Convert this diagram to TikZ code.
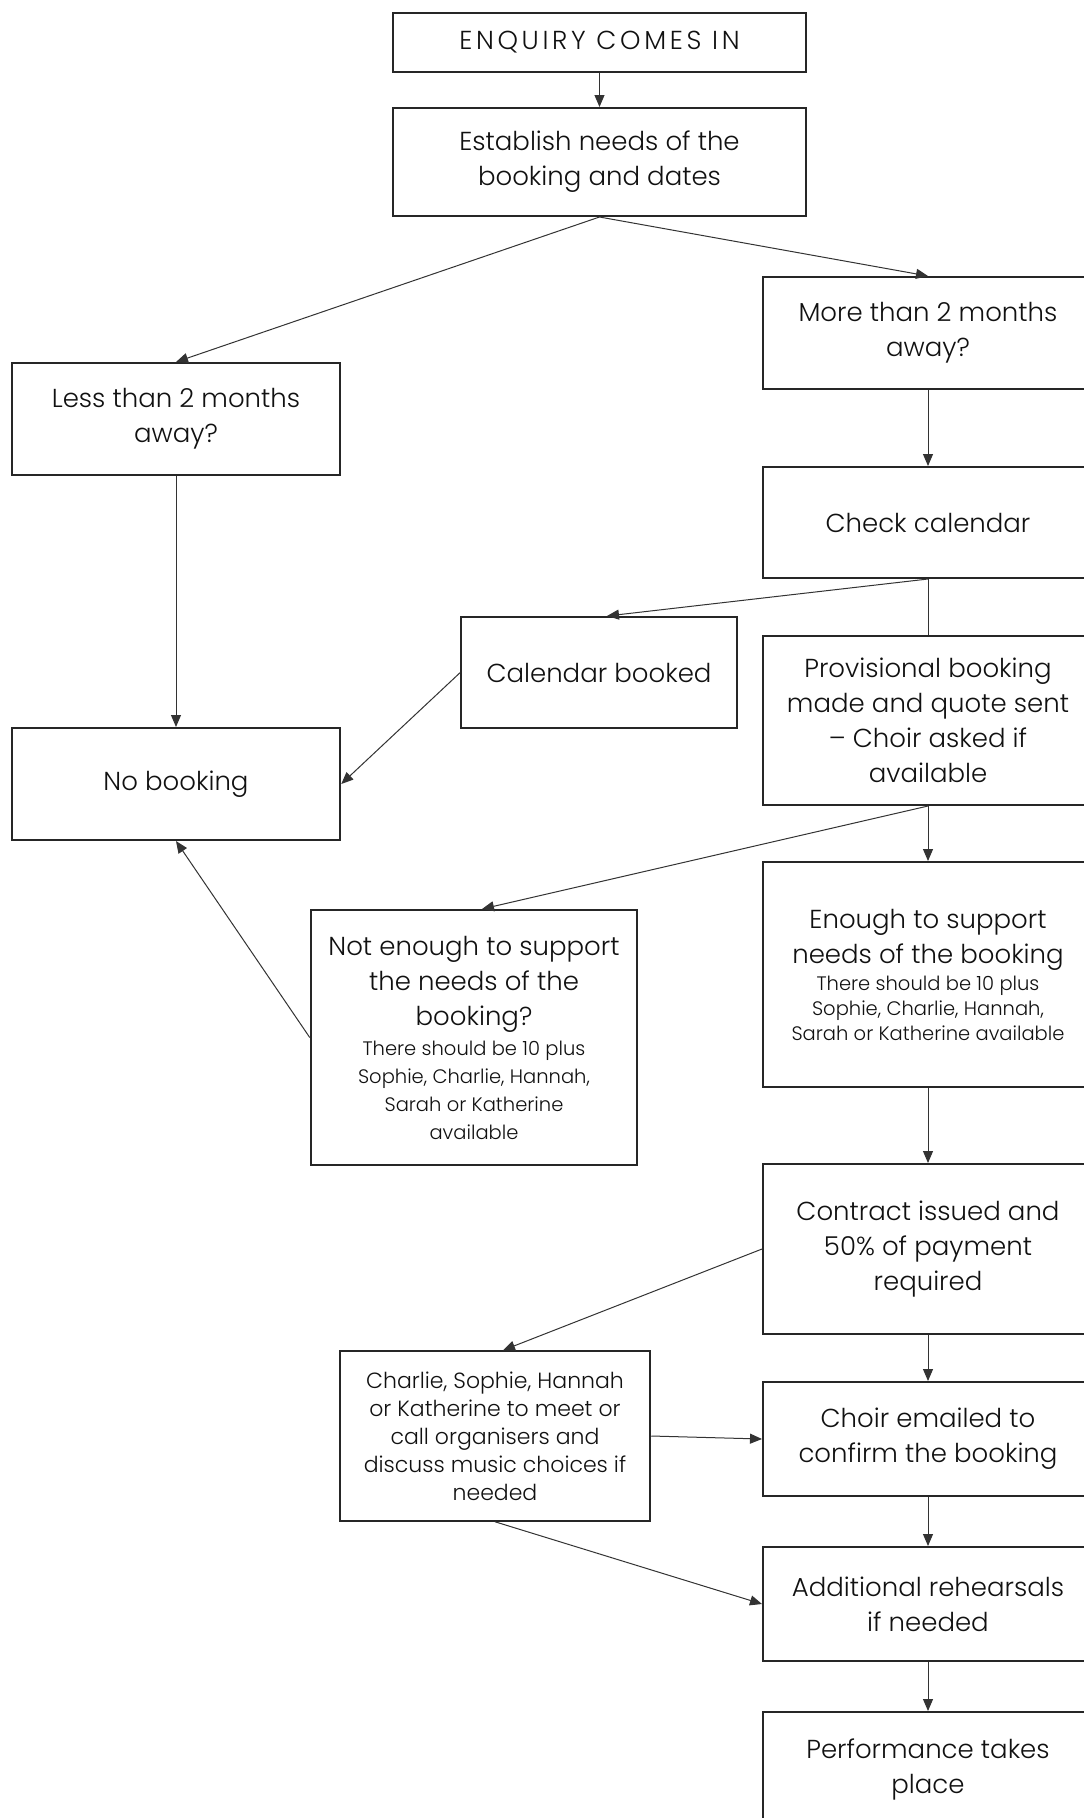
\documentclass[tikz,border=0pt]{standalone}
\usepackage{fontspec}
\IfFontExistsTF{Poppins Light}{\setmainfont{Poppins Light}}{\setmainfont{Poppins}}
\usetikzlibrary{arrows.meta}
\definecolor{boxc}{HTML}{262626}
\definecolor{txtc}{HTML}{111111}
\definecolor{linec}{HTML}{333333}
\tikzset{
  box/.style={draw=boxc, line width=2pt, align=center, inner sep=0pt, text=txtc,
    font=\fontsize{26}{35}\selectfont},
  arr/.style={draw=linec, line width=1pt, -{Triangle[length=12pt,width=10pt]}},
  plain/.style={draw=linec, line width=1pt},
}
\newcommand{\smalltxt}{\fontsize{19.5}{25}\selectfont}
\begin{document}
\begin{tikzpicture}[x=1pt,y=-1pt]
\clip (0,0) rectangle (1084,1818);
\fill[white] (0,0) rectangle (1084,1818);

\node[box, minimum width=413pt, minimum height=59pt] (enq) at (599.5,42.5) {\addfontfeatures{LetterSpace=14}ENQUIRY COMES IN};
\node[box, minimum width=413pt, minimum height=108pt] (est) at (599.5,162) {Establish needs of the\\booking and dates};
\node[box, minimum width=328.5pt, minimum height=112pt] (less) at (176,419) {Less than 2 months\\away?};
\node[box, minimum width=330pt, minimum height=112pt] (more) at (928,333) {More than 2 months\\away?};
\node[box, minimum width=330pt, minimum height=111pt] (check) at (928,522.5) {Check calendar};
\node[box, minimum width=275.5pt, minimum height=111pt] (cal) at (599,672.5) {Calendar booked};
\node[box, minimum width=328.5pt, minimum height=112pt] (nob) at (176,784) {No booking};
\node[box, minimum width=330pt, minimum height=169pt] (prov) at (928,720.5) {Provisional booking\\made and quote sent\\-- Choir asked if\\available};
\node[box, minimum width=326.5pt, minimum height=255pt] (noten) at (474,1037.5) {Not enough to support\\the needs of the\\booking?\\[-5pt]\smalltxt There should be 10 plus\\[-7pt]\smalltxt Sophie, Charlie, Hannah,\\[-7pt]\smalltxt Sarah or Katherine\\[-7pt]\smalltxt available};
\node[box, minimum width=330pt, minimum height=225pt] (enough) at (928,974.5) {Enough to support\\needs of the booking\\[-8pt]\smalltxt There should be 10 plus\\[-10pt]\smalltxt Sophie, Charlie, Hannah,\\[-10pt]\smalltxt Sarah or Katherine available};
\node[box, minimum width=330pt, minimum height=170pt] (contract) at (928,1249) {Contract issued and\\50\% of payment\\required};
\node[box, minimum width=310.5pt, minimum height=169.5pt, font=\fontsize{22}{28}\selectfont] (charlie) at (495,1436) {Charlie, Sophie, Hannah\\or Katherine to meet or\\call organisers and\\discuss music choices if\\needed};
\node[box, minimum width=330pt, minimum height=114pt] (choir) at (928,1439) {Choir emailed to\\confirm the booking};
\node[box, minimum width=330pt, minimum height=114pt] (add) at (928,1604) {Additional rehearsals\\if needed};
\node[box, minimum width=330pt, minimum height=114pt] (perf) at (928,1769) {Performance takes\\place};

\draw[arr] (enq) -- (est);
\draw[arr] (est.south) -- (less.north);
\draw[arr] (est.south) -- (more.north);
\draw[arr] (more) -- (check);
\draw[arr] (check.south) -- ([xshift=8pt]cal.north);
\draw[plain] (check) -- (prov);
\draw[arr] (cal.west) -- (nob.east);
\draw[arr] (less) -- (nob);
\draw[arr] (prov.south) -- ([xshift=8pt]noten.north);
\draw[arr] (prov) -- (enough);
\draw[arr] (noten.west) -- (nob.south);
\draw[arr] (enough) -- (contract);
\draw[arr] (contract.west) -- ([xshift=8pt]charlie.north);
\draw[arr] (contract) -- (choir);
\draw[arr] (charlie.east) -- (choir.west);
\draw[arr] (charlie.south) -- (add.west);
\draw[arr] (choir) -- (add);
\draw[arr] (add) -- (perf);
\end{tikzpicture}
\end{document}
